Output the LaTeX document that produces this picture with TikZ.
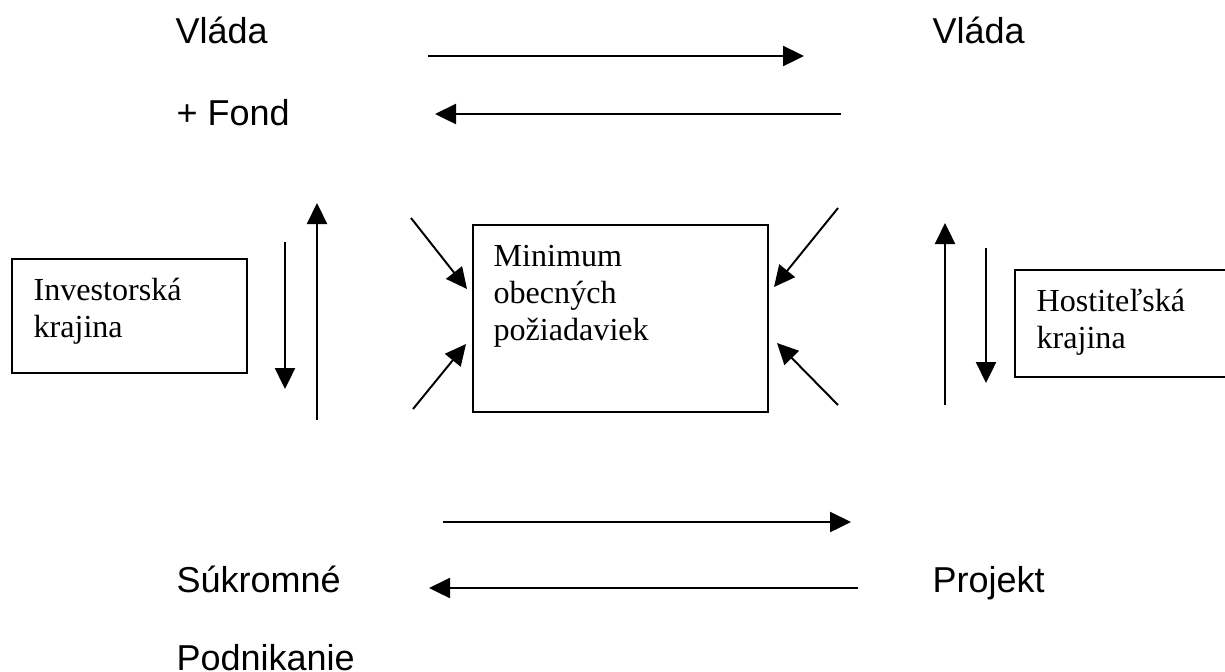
\documentclass[tikz,border=0pt]{standalone}
\usepackage{fontspec}
\setmainfont{Liberation Serif}
\newfontfamily\arialfont{Liberation Sans}
\usetikzlibrary{arrows.meta,fit}

\tikzset{
  lbl/.style={font=\arialfont\fontsize{12}{14}\selectfont, inner sep=0pt, anchor=base west},
  boxtext/.style={font=\fontsize{10.7}{12.3}\selectfont, inner sep=0pt, anchor=base west, align=left},
  box/.style={draw, line width=0.65pt, inner sep=0pt},
  flow/.style={line width=0.65pt, ->},
}

\begin{document}
\begin{tikzpicture}[x=0.3333pt, y=-0.3333pt, >={Triangle[length=7pt,width=6.7pt]}]
  \useasboundingbox (0,0) rectangle (1225,671);

  % labels
  \node[lbl] (vladaL) at (175,43) {Vláda};
  \node[lbl] (fond) at (176,125) {+ Fond};
  \node[lbl] (vladaR) at (932,43) {Vláda};
  \node[lbl] (sukromne) at (176,592) {Súkromné};
  \node[lbl] (podnikanie) at (176,670) {Podnikanie};
  \node[lbl] (projekt) at (932,592) {Projekt};

  % boxes
  \coordinate (invNW) at (12,259);
  \coordinate (invSE) at (247,373);
  \coordinate (minNW) at (473,225);
  \coordinate (minSE) at (768,412);
  \coordinate (hostNW) at (1015,270);
  \coordinate (hostSE) at (1240,377);
  \node[box, fit=(invNW)(invSE)] (invbox) {};
  \node[box, fit=(minNW)(minSE)] (minbox) {};
  \node[box, fit=(hostNW)(hostSE)] (hostbox) {};
  \node[boxtext] (invtext) at (33,337) {Investorská\\krajina};
  \node[boxtext] (mintext) at (493,340) {Minimum\\obecných\\požiadaviek};
  \node[boxtext] (hosttext) at (1036,348) {Hostiteľská\\krajina};

  % arrow ends
  \coordinate (t1a) at (428,56);  \coordinate (t1b) at (804,56);
  \coordinate (t2a) at (841,114); \coordinate (t2b) at (435,114);
  \coordinate (b1a) at (443,522); \coordinate (b1b) at (851,522);
  \coordinate (b2a) at (858,588); \coordinate (b2b) at (429,588);
  \coordinate (l1a) at (285,242); \coordinate (l1b) at (285,389);
  \coordinate (l2a) at (317,420); \coordinate (l2b) at (317,203);
  \coordinate (r1a) at (945,405); \coordinate (r1b) at (945,223);
  \coordinate (r2a) at (986,248); \coordinate (r2b) at (986,383);
  \coordinate (d1a) at (411,218); \coordinate (d1b) at (467,289);
  \coordinate (d2a) at (413,409); \coordinate (d2b) at (466,344);
  \coordinate (d3a) at (838,208); \coordinate (d3b) at (774,287);
  \coordinate (d4a) at (838,405); \coordinate (d4b) at (777,343);

  \foreach \a in {t1,t2,b1,b2,l1,l2,r1,r2,d1,d2,d3,d4}
    \draw[flow] (\a a) -- (\a b);
\end{tikzpicture}
\end{document}
